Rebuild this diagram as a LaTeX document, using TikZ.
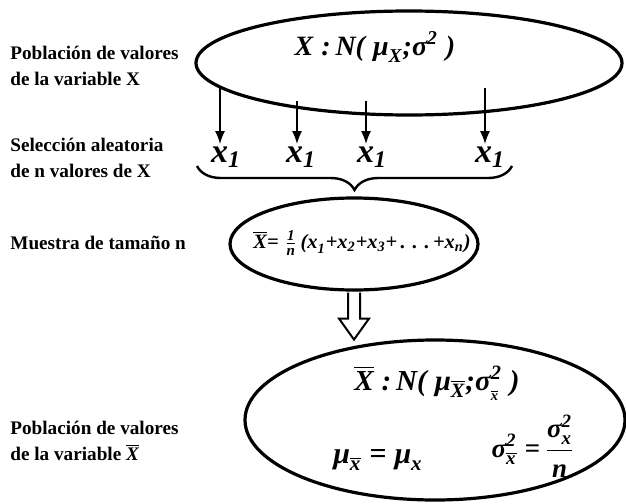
\documentclass[tikz,border=0pt]{standalone}
\usepackage{amsmath}
\usepackage{fontspec}
\setmainfont{Liberation Serif}
\usetikzlibrary{shapes.geometric,decorations.pathreplacing,arrows.meta,calc}
\newcommand{\bv}[1]{\text{\bfseries\itshape #1}}
\newcommand{\sm}[1]{\text{\bfseries\itshape\fontsize{7.5}{8}\selectfont #1}}

\begin{document}
\begin{tikzpicture}[x=0.5pt,y=-0.5pt,
  every node/.style={font=\bfseries\fontsize{9.6}{13}\selectfont},
  oval/.style={draw,ellipse,line width=1.6pt,inner sep=0pt},
  lab/.style={anchor=west,align=left,inner sep=0pt},
  xv/.style={font=\fontsize{17}{19}\selectfont,inner sep=1pt},
  pick/.style={line width=1pt,-{Latex[length=6.5pt,width=5pt]}}]
  \useasboundingbox (0,0) rectangle (626,503);
  % elipses
  \node[oval,minimum width=213pt,minimum height=52pt] (pop) at (409,63) {};
  \node[oval,minimum width=124pt,minimum height=46pt] (mues) at (354,244) {};
  \node[oval,minimum width=190pt,minimum height=80pt] (popm) at (435,420) {};
  % textos a la izquierda
  \node[lab] (l1) at (10,66) {Población de valores\\de la variable X};
  \node[lab] (l2) at (10,158) {Selección aleatoria\\de n valores de X};
  \node[lab] (l3) at (10,243) {Muestra de tamaño n};
  \node[lab] (l4) at (10,441) {Población de valores\\de la variable $\overline{\bv{X}}$};
  % poblacion
  \node[font=\fontsize{14}{16}\selectfont] (fX) at (375,47)
    {$\bv{X}\;\bv{:}\,\bv{N(}\;\bv{μ}_{\bv{X}}\bv{;}\bv{σ}^{\bv{2}}\;\bv{)}$};
  % seleccion
  \node[xv] (x1) at (226,157) {$\bv{x}_{\bv{1}}$};
  \node[xv] (x2) at (301,157) {$\bv{x}_{\bv{1}}$};
  \node[xv] (x3) at (372,157) {$\bv{x}_{\bv{1}}$};
  \node[xv] (x4) at (490,157) {$\bv{x}_{\bv{1}}$};
  \coordinate (s1) at (220,88);
  \coordinate (s2) at (297,101);
  \coordinate (s3) at (366,101);
  \coordinate (s4) at (485,88);
  \foreach \i in {1,...,4}
    \draw[pick] (s\i) -- (x\i.north -| s\i);
  \coordinate (bl) at (197,166);
  \coordinate (br) at (512,166);
  \draw[line width=1.2pt,decorate,decoration={brace,mirror,amplitude=12pt}] (bl) -- (br);
  % muestra
  \node[font=\fontsize{10.2}{12}\selectfont] (fm) at (362,243)
    {$\overline{\bv{X}}\bv{=}\;\frac{\sm{1}}{\sm{n}}\,\bv{(x}_{\bv{1}}\bv{+x}_{\bv{2}}\bv{+x}_{\bv{3}}\bv{+\,.\,\,.\,\,.\,+x}_{\bv{n}}\bv{)}$};
  % flecha hueca
  \draw[line width=1pt] ($(mues.south)+(-6,1)$) -- ($(mues.south)+(-6,27)$)
    -- ($(mues.south)+(-15,27)$) -- ($(mues.south)+(0,48)$)
    -- ($(mues.south)+(15,27)$) -- ($(mues.south)+(6,27)$) -- ($(mues.south)+(6,1)$);
  % poblacion de la media
  \node[font=\fontsize{14.5}{16}\selectfont] (fb) at (437,383)
    {$\overline{\bv{X}}\;\bv{:}\,\bv{N(}\;\bv{μ}_{\overline{\bv{X}}}\bv{;}\bv{σ}^{\bv{2}}_{\raisebox{-1.5pt}{$\scriptscriptstyle\overline{\bv{x}}$}}\;\bv{)}$};
  \node[font=\fontsize{15}{17}\selectfont] (fmu) at (378,460)
    {$\bv{μ}_{\overline{\bv{x}}}\;\bv{=}\;\bv{μ}_{\bv{x}}$};
  \node[font=\fontsize{13.5}{15}\selectfont] (fsg) at (533,446)
    {$\bv{σ}^{\bv{2}}_{\overline{\bv{x}}}\;\bv{=}\,\dfrac{\bv{σ}^{\bv{2}}_{\bv{x}}}{\bv{n}}$};
\end{tikzpicture}
\end{document}
